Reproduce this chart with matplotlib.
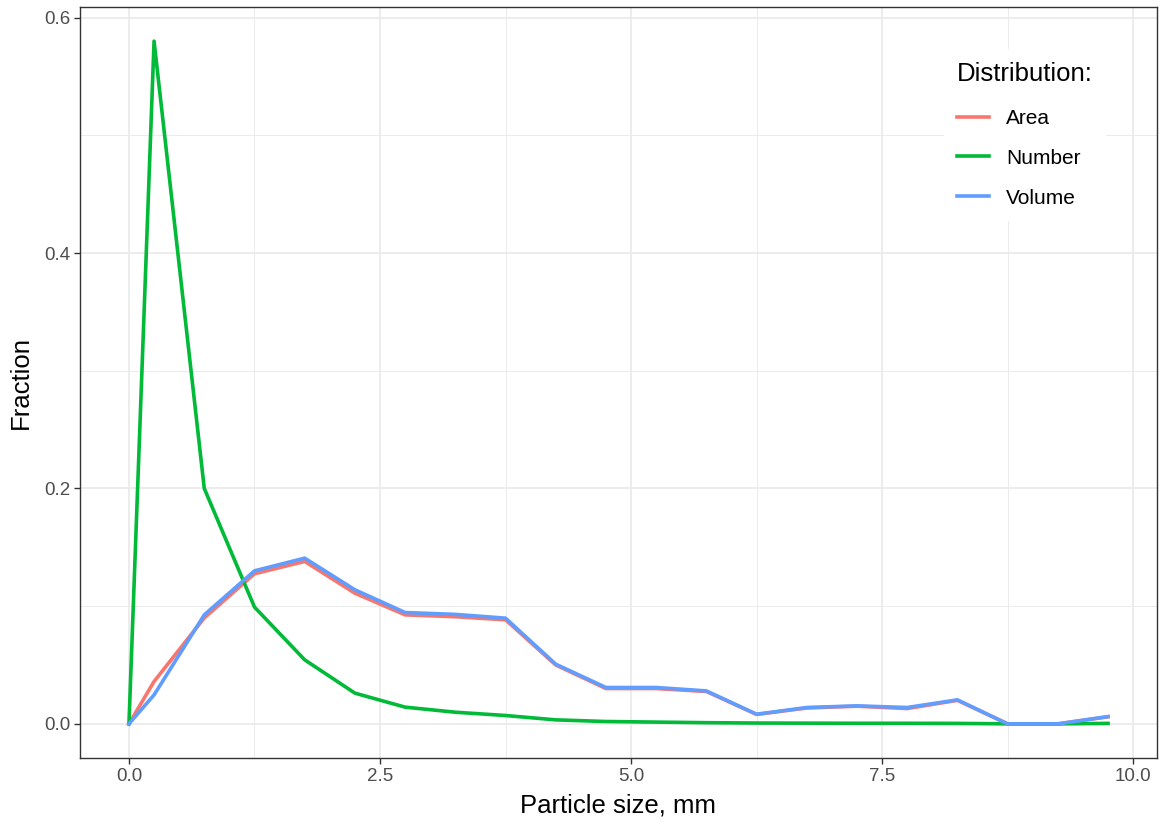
import matplotlib
matplotlib.use("Agg")
from matplotlib import pyplot as plt
from matplotlib.ticker import MultipleLocator

plt.rcParams["font.family"] = ["Liberation Sans", "DejaVu Sans"]

# particle size bins (mm) and fractions
size = [0.0, 0.25, 0.75, 1.25, 1.75, 2.25, 2.75, 3.25, 3.75, 4.25, 4.75,
        5.25, 5.75, 6.25, 6.75, 7.25, 7.75, 8.25, 8.75, 9.25, 9.75]
area = [0.0, 0.036, 0.090, 0.1275, 0.138, 0.111, 0.0926, 0.091, 0.0884,
        0.050, 0.030, 0.030, 0.0275, 0.008, 0.0135, 0.015, 0.013, 0.020,
        0.0, 0.0, 0.006]
number = [0.0, 0.58, 0.200, 0.0992, 0.0544, 0.0261, 0.0142, 0.0099, 0.0071,
          0.0034, 0.002, 0.0015, 0.001, 0.0007, 0.0006, 0.0005, 0.0005,
          0.0004, 0.0, 0.0, 0.0004]
volume = [0.0, 0.0246, 0.0926, 0.130, 0.1408, 0.1139, 0.0946, 0.093, 0.0898,
          0.0507, 0.0309, 0.0309, 0.028, 0.0082, 0.0139, 0.0153, 0.0139,
          0.0204, 0.0, 0.0, 0.0062]

series = [("Area", area, "#F8766D"),
          ("Number", number, "#00BA38"),
          ("Volume", volume, "#619CFF")]

W, H = 1168, 823
fig = plt.figure(figsize=(W / 100, H / 100), dpi=100)
ax = fig.add_axes([80 / W, 1 - 758 / H, (1157 - 80) / W, (758 - 7) / H])

for name, vals, col in series:
    ax.plot(size, vals, color=col, lw=2.6, label=name, solid_joinstyle="round")

xr = max(size) - min(size)
ax.set_xlim(min(size) - 0.05 * xr, max(size) + 0.05 * xr)
ymax = max(number)
ax.set_ylim(-0.05 * ymax, ymax * 1.05)

ax.xaxis.set_major_locator(MultipleLocator(2.5))
ax.xaxis.set_minor_locator(MultipleLocator(1.25))
ax.yaxis.set_major_locator(MultipleLocator(0.2))
ax.yaxis.set_minor_locator(MultipleLocator(0.1))
ax.xaxis.set_major_formatter(lambda v, p: f"{v:.1f}")
ax.yaxis.set_major_formatter(lambda v, p: f"{v:.1f}")

ax.grid(True, which="major", color="#EBEBEB", lw=1.3)
ax.grid(True, which="minor", color="#EBEBEB", lw=0.7)
ax.set_axisbelow(True)
for s in ax.spines.values():
    s.set_color("#333333")
    s.set_linewidth(1.0)
ax.tick_params(which="major", length=4, width=1, color="#333333",
               labelsize=13.5, labelcolor="#4D4D4D", pad=3)
ax.tick_params(which="minor", length=0)

ax.set_xlabel("Particle size, mm", fontsize=18.5, labelpad=6)
ax.set_ylabel("Fraction", fontsize=18.5, labelpad=8)

leg = ax.legend(title="Distribution:", loc="upper left",
                bbox_to_anchor=(934 / W, 1 - 39 / H), bbox_transform=fig.transFigure,
                fontsize=15, title_fontsize=18.5, frameon=True, fancybox=False,
                edgecolor="white", facecolor="white", framealpha=1,
                handlelength=1.55, handletextpad=0.8, labelspacing=1.0,
                borderpad=0.6)
leg._legend_box.align = "left"
leg._legend_box.sep = 16.5

fig.savefig("out.png", dpi=100)
